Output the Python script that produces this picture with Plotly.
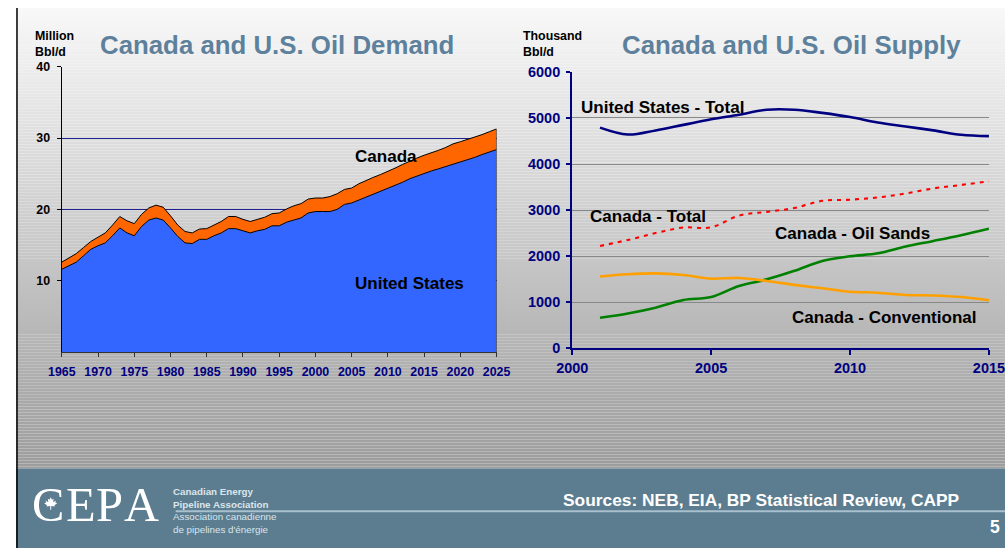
import plotly.graph_objects as go

# The photographed picture shows the figure placed at (TX, TY) and scaled by S;
# positions below are given in reference-picture pixels and mapped back.
S = 0.968
TX, TY = 14.5, 8.0
W, H = 1024, 559

# ---------------- data ----------------
demand_years = list(range(1965, 2026))
us_demand = [11.6, 12.1, 12.6, 13.5, 14.4, 14.9, 15.3, 16.3, 17.4, 16.7,
             16.3, 17.6, 18.5, 18.8, 18.5, 17.4, 16.2, 15.3, 15.2, 15.8,
             15.8, 16.3, 16.7, 17.3, 17.3, 17.0, 16.7, 17.0, 17.2, 17.7,
             17.7, 18.2, 18.5, 18.8, 19.5, 19.7, 19.7, 19.7, 20.0, 20.7,
             20.9, 21.3, 21.8, 22.2, 22.6, 23.0, 23.3, 23.8, 24.3, 24.7,
             25.1, 25.4, 25.7, 26.0, 26.3, 26.7, 27.0, 27.3, 27.7, 28.0,
             28.4]
canada_demand = [1.0, 1.1, 1.2, 1.15, 1.1, 1.2, 1.4, 1.5, 1.6, 1.7,
                 1.7, 1.7, 1.7, 1.8, 1.8, 1.7, 1.6, 1.6, 1.5, 1.45,
                 1.5, 1.5, 1.6, 1.7, 1.7, 1.6, 1.6, 1.6, 1.7, 1.7,
                 1.8, 1.85, 2.0, 2.0, 1.95, 1.9, 1.9, 2.1, 2.2, 2.1,
                 2.1, 2.3, 2.3, 2.3, 2.3, 2.3, 2.5, 2.5, 2.5, 2.5,
                 2.5, 2.5, 2.6, 2.7, 2.9, 2.8, 2.8, 2.8, 2.8, 2.9,
                 2.9]

supply_years = list(range(2001, 2016))
us_total_supply = [4790, 4640, 4730, 4850, 4970, 5070, 5180, 5180, 5110,
                   5020, 4900, 4815, 4730, 4635, 4605]
canada_total_supply = [2220, 2350, 2500, 2620, 2625, 2880, 2960, 3045, 3200,
                       3225, 3275, 3360, 3470, 3545, 3625]
oil_sands_supply = [660, 755, 880, 1045, 1110, 1350, 1495, 1680, 1895,
                    1995, 2060, 2210, 2330, 2455, 2595]
conventional_supply = [1555, 1605, 1625, 1590, 1510, 1525, 1460, 1375, 1300,
                       1225, 1205, 1155, 1145, 1110, 1040]

demand_yticks = [10, 20, 30, 40]
demand_xticks = list(range(1965, 2026, 5))
supply_yticks = [0, 1000, 2000, 3000, 4000, 5000, 6000]
supply_xticks = [2000, 2005, 2010, 2015]

# ---------------- helpers (picture pixel -> paper) ----------------
def px(x):
    return min(max((x - TX) / S / W, 0), 1)

def py(y):
    return min(max(1 - (y - TY) / S / H, 0), 1)

def fs(v):
    return v / S

FONT = "Liberation Sans, Arial, sans-serif"
NAVY = "#000080"
TITLE_C = "#5d819c"

fig = go.Figure()

# ---- demand (stacked areas) ----
fig.add_trace(go.Scatter(
    x=demand_years, y=us_demand, name="United States", stackgroup="d",
    mode="lines", line=dict(color="black", width=1), fillcolor="#3366ff",
    xaxis="x", yaxis="y", hoverinfo="skip"))
fig.add_trace(go.Scatter(
    x=demand_years, y=canada_demand, name="Canada", stackgroup="d",
    mode="lines", line=dict(color="black", width=1), fillcolor="#ff6600",
    xaxis="x", yaxis="y", hoverinfo="skip"))

# ---- supply (lines) ----
fig.add_trace(go.Scatter(
    x=supply_years, y=us_total_supply, mode="lines",
    line=dict(color=NAVY, width=fs(2.5), shape="spline"),
    xaxis="x2", yaxis="y2", hoverinfo="skip"))
fig.add_trace(go.Scatter(
    x=supply_years, y=canada_total_supply, mode="lines",
    line=dict(color="#ff0000", width=fs(2), dash="4px,5px", shape="spline"),
    xaxis="x2", yaxis="y2", hoverinfo="skip"))
fig.add_trace(go.Scatter(
    x=supply_years, y=oil_sands_supply, mode="lines",
    line=dict(color="#008000", width=fs(2.5), shape="spline"),
    xaxis="x2", yaxis="y2", hoverinfo="skip"))
fig.add_trace(go.Scatter(
    x=supply_years, y=conventional_supply, mode="lines",
    line=dict(color="#ffa000", width=fs(2.5), shape="spline"),
    xaxis="x2", yaxis="y2", hoverinfo="skip"))

# ---------------- background shapes ----------------
shapes = []
band = 3
top_c, bot_c = 250, 156
footer_top = 467
y = 0
while y < footer_top:
    y1 = min(y + band, footer_top)
    t = (y + y1) / 2 / footer_top
    c = int(round(top_c + (bot_c - top_c) * t))
    shapes.append(dict(type="rect", xref="paper", yref="paper",
                       x0=0, x1=1, y0=py(y1), y1=py(y),
                       fillcolor=f"rgb({c},{c},{c})", line=dict(width=0),
                       layer="below"))
    y = y1
# footer band
shapes.append(dict(type="rect", xref="paper", yref="paper", x0=0, x1=1,
                   y0=0, y1=py(footer_top), fillcolor="#5b7d8f",
                   line=dict(width=0), layer="below"))
# footer rule
shapes.append(dict(type="line", xref="paper", yref="paper",
                   x0=px(174), x1=1, y0=py(509.5), y1=py(509.5),
                   line=dict(color="#a9c0cf", width=2), layer="below"))
# left border
shapes.append(dict(type="line", xref="paper", yref="paper",
                   x0=0.001, x1=0.001, y0=0, y1=1,
                   line=dict(color="black", width=1.5), layer="above"))
# right edge outline of the demand area (x = last demand year)
shapes.append(dict(type="line", xref="x", yref="y",
                   x0=demand_years[-1], x1=demand_years[-1], y0=0,
                   y1=us_demand[-1] + canada_demand[-1],
                   line=dict(color="#333333", width=1.2), layer="above"))
# maple leaf (logo)
leaf = [(0, 1.0), (0.15, 0.68), (0.36, 0.8), (0.3, 0.38), (0.66, 0.6),
        (0.56, 0.34), (0.82, 0.26), (0.46, 0.0), (0.52, -0.16), (0.06, -0.1),
        (0.06, -0.55), (-0.06, -0.55), (-0.06, -0.1), (-0.52, -0.16),
        (-0.46, 0.0), (-0.82, 0.26), (-0.56, 0.34), (-0.66, 0.6),
        (-0.3, 0.38), (-0.36, 0.8), (-0.15, 0.68)]
cx, cy, s = 49.2, 503.5, 8.0
path = "M " + " L ".join(f"{px(cx + a * s):.5f},{py(cy - b * s):.5f}" for a, b in leaf) + " Z"
shapes.append(dict(type="path", xref="paper", yref="paper", path=path,
                   fillcolor="white", line=dict(width=0), layer="above"))

# ---------------- annotations ----------------
ann = []

def text(x, y, s, size, color="black", xanchor="left", yanchor="middle",
         family=FONT, bold=True, xref="paper", yref="paper"):
    ann.append(dict(x=x, y=y, xref=xref, yref=yref, text=(f"<b>{s}</b>" if bold else s),
                    showarrow=False, xanchor=xanchor, yanchor=yanchor, align="left",
                    xshift=(fs(-4) if xanchor == "left" else 0),
                    font=dict(family=family, size=fs(size), color=color)))

# titles
text(px(275.5), py(44.5), "Canada and U.S. Oil Demand", 25, TITLE_C, xanchor="center")
text(px(789), py(44.5), "Canada and U.S. Oil Supply", 25, TITLE_C, xanchor="center")
# units
text(px(36), py(44), "Million<br>Bbl/d", 12)
text(px(523), py(44), "Thousand<br>Bbl/d", 12)
# demand labels
text(2005.7, 27.4, "Canada", 16.5, xref="x", yref="y")
text(2005.8, 9.6, "United States", 16.5, xref="x", yref="y")
# supply labels
text(2000.41, 5225, "United States - Total", 16.5, xref="x2", yref="y2")
text(2000.71, 2870, "Canada - Total", 16.5, xref="x2", yref="y2")
text(2007.37, 2495, "Canada - Oil Sands", 16.5, xref="x2", yref="y2")
text(2007.98, 675, "Canada - Conventional", 16.5, xref="x2", yref="y2")
# footer
text(px(563), py(498), "Sources: NEB, EIA, BP Statistical Review, CAPP", 16.8, "white")
text(px(1000), py(525), "5", 17, "white", xanchor="right")
# logo letters
SERIF = "Liberation Serif, Times New Roman, serif"
for ch, xc in [("C", 46.5), ("E", 79.5), ("P", 107.5), ("A", 140.0)]:
    text(px(xc), py(503.5), ch, 47, "white", xanchor="center", family=SERIF, bold=False)
LOGO_C = "#dbe5ec"
text(px(174), py(496), "Canadian Energy<br>Pipeline Association", 9.5, LOGO_C)
text(px(174), py(521), "Association canadienne<br>de pipelines d'énergie", 9.5, LOGO_C, bold=False)

# ---------------- layout ----------------
fig.update_layout(
    width=W, height=H, autosize=False,
    margin=dict(l=0, r=0, t=0, b=0, pad=0),
    paper_bgcolor="white", plot_bgcolor="rgba(0,0,0,0)",
    showlegend=False,
    shapes=shapes, annotations=ann,
    xaxis=dict(domain=[px(60.3), px(494.7)], range=[1965, 2025],
               tickvals=demand_xticks, ticks="outside", ticklen=fs(4),
               tickcolor="#333333", showline=True, linecolor="#333333",
               linewidth=1, showgrid=False, zeroline=False,
               ticklabelstandoff=4,
               tickfont=dict(family=FONT, size=fs(12), color=NAVY, weight="bold"),
               anchor="y", fixedrange=True),
    yaxis=dict(domain=[py(350.7), py(66.7)], range=[0, 40],
               tickvals=demand_yticks, ticks="outside", ticklen=fs(4),
               tickcolor="black", showline=True, linecolor="black",
               linewidth=1.2, showgrid=True, gridcolor="#1f1f90",
               gridwidth=1, zeroline=False,
               ticklabelstandoff=4,
               tickfont=dict(family=FONT, size=fs(12), color="black", weight="bold"),
               anchor="x", fixedrange=True),
    xaxis2=dict(domain=[px(570.3), px(986.7)], range=[2000, 2015],
                tickvals=supply_xticks, ticks="outside", ticklen=fs(5),
                tickcolor=NAVY, tickwidth=2, showline=True, linecolor=NAVY,
                linewidth=2, showgrid=False, zeroline=False,
                tickfont=dict(family=FONT, size=fs(14), color=NAVY, weight="bold"),
                anchor="y2", fixedrange=True),
    yaxis2=dict(domain=[py(347), py(71.7)], range=[0, 6000],
                tickvals=supply_yticks, ticks="outside", ticklen=fs(4),
                tickcolor=NAVY, tickwidth=2, showline=True, linecolor=NAVY,
                linewidth=2, showgrid=True, gridcolor="#888888",
                gridwidth=1, zeroline=False,
                ticklabelstandoff=3,
                tickfont=dict(family=FONT, size=fs(14), color=NAVY, weight="bold"),
                anchor="x2", fixedrange=True),
)

fig.write_html("out.html", config={"displayModeBar": False})
